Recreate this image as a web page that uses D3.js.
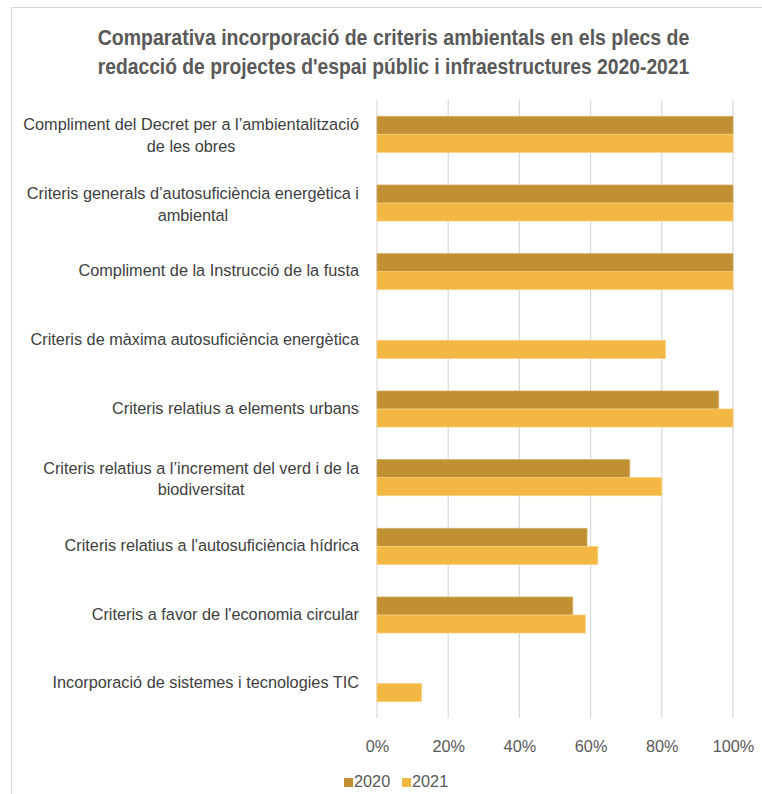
<!DOCTYPE html>
<html>
<head>
<meta charset="utf-8">
<script src="https://cdn.jsdelivr.net/npm/d3@7"></script>
<style>
  html, body { margin: 0; padding: 0; background: #fff; }
  svg { display: block; }
</style>
</head>
<body>
<svg id="chart" width="762" height="794"></svg>
<script>
const titleLines = [
  "Comparativa incorporació de criteris ambientals en els plecs de",
  "redacció de projectes d'espai públic i infraestructures 2020-2021"
];
const categories = [
  "Compliment del Decret per a l’ambientalització de les obres",
  "Criteris generals d’autosuficiència energètica i ambiental",
  "Compliment de la Instrucció de la fusta",
  "Criteris de màxima autosuficiència energètica",
  "Criteris relatius a elements urbans",
  "Criteris relatius a l’increment del verd i de la biodiversitat",
  "Criteris relatius a l'autosuficiència hídrica",
  "Criteris a favor de l'economia circular",
  "Incorporació de sistemes i tecnologies TIC"
];
const seriesNames = ["2020", "2021"];
const values2020 = [100, 100, 100, null, 96, 71, 59, 55, null];
const values2021 = [100, 100, 100, 81, 100, 80, 62, 58.5, 12.5];
const tickValues = [0, 20, 40, 60, 80, 100];
const colors = ["#C09033", "#F2B843"];
const strokeColors = ["#D4AE62", "#F7CE78"];

const svg = d3.select("#chart");
const font = "'Liberation Sans', Arial, Helvetica, sans-serif";

// outer border
svg.append("rect")
  .attr("x", 11.5).attr("y", 7.5)
  .attr("width", 800).attr("height", 820)
  .attr("fill", "none").attr("stroke", "#d9d9d9").attr("stroke-width", 1);

// title
const titleG = svg.append("g");
const titleBaselines = [45, 74];
titleLines.forEach((t, i) => {
  const tx = titleG.append("text")
    .attr("x", 0).attr("y", 0)
    .attr("text-anchor", "middle")
    .attr("font-family", font)
    .attr("font-weight", "bold")
    .attr("font-size", 22)
    .attr("fill", "#595959")
    .text(t);
  const w = tx.node().getComputedTextLength();
  const sx = 592 / w;
  tx.attr("transform", `translate(393.5,${titleBaselines[i]}) scale(${sx},1)`);
});

const x = d3.scaleLinear().domain([0, 100]).range([377, 733]);
const y = d3.scaleBand().domain(d3.range(categories.length))
  .range([100, 718]).paddingInner(0.475).paddingOuter(0.2375);
const ySub = d3.scaleBand().domain(seriesNames).range([0, y.bandwidth()]).padding(0);

// gridlines
svg.append("g").selectAll("line").data(tickValues).join("line")
  .attr("x1", d => x(d)).attr("x2", d => x(d))
  .attr("y1", 100).attr("y2", 718)
  .attr("stroke", "#d9d9d9").attr("stroke-width", 1.2);

// x axis labels
const xAxis = d3.axisBottom(x).tickValues(tickValues).tickSize(0).tickFormat(d => d + "%");
const xg = svg.append("g").attr("transform", "translate(0,736)").call(xAxis);
xg.select(".domain").remove();
xg.selectAll("text")
  .attr("font-family", font).attr("font-size", 16.3).attr("fill", "#595959").attr("dy", 0);
xg.selectAll(".tick text").attr("y", 15.5);

// bars
const series = [values2020, values2021];
series.forEach((vals, si) => {
  svg.append("g").selectAll("rect")
    .data(vals.map((v, i) => ({ v, i })).filter(d => d.v != null))
    .join("rect")
    .attr("x", x(0))
    .attr("y", d => y(d.i) + ySub(seriesNames[si]))
    .attr("width", d => x(d.v) - x(0))
    .attr("height", ySub.bandwidth())
    .attr("fill", colors[si])
    .attr("stroke", strokeColors[si])
    .attr("stroke-width", 0.8);
});

// category labels with wrapping
const labelRight = 359;
const maxW = 340;
const lineH = 21.6;
const measure = svg.append("text").attr("font-family", font).attr("font-size", 16.3).attr("visibility", "hidden");
function widthOf(s) { measure.text(s); return measure.node().getComputedTextLength(); }
categories.forEach((c, i) => {
  const words = c.split(" ");
  const lines = [];
  let cur = "";
  words.forEach(w => {
    const test = cur ? cur + " " + w : w;
    if (widthOf(test) > maxW && cur) { lines.push(cur); cur = w; } else { cur = test; }
  });
  lines.push(cur);
  const widest = d3.max(lines, widthOf);
  const cx = labelRight - widest / 2;
  const center = y(i) + y.bandwidth() / 2;
  const n = lines.length;
  const t = svg.append("text")
    .attr("font-family", font).attr("font-size", 16.3).attr("fill", "#404040")
    .attr("text-anchor", "middle");
  lines.forEach((ln, li) => {
    t.append("tspan")
      .attr("x", cx)
      .attr("y", center + 4.8 + (li - (n - 1) / 2) * lineH + (n > 1 ? 2 : 0))
      .text(ln);
  });
});
measure.remove();

// legend
const legend = svg.append("g");
const legendItems = [{ name: "2020", x: 344 }, { name: "2021", x: 402 }];
legendItems.forEach((it, i) => {
  legend.append("rect").attr("x", it.x).attr("y", 778).attr("width", 9).attr("height", 9).attr("fill", colors[i]);
  legend.append("text").attr("x", it.x + 10).attr("y", 787)
    .attr("font-family", font).attr("font-size", 16.3).attr("fill", "#595959").text(it.name);
});
</script>
</body>
</html>
